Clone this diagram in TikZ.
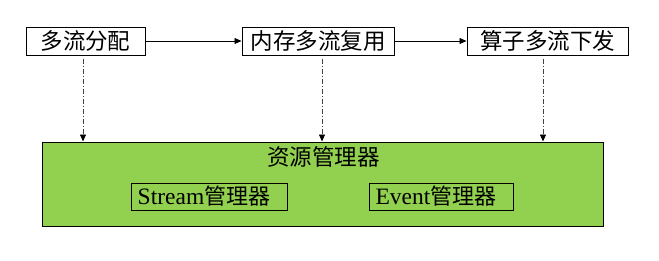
\documentclass[tikz,border=0pt]{standalone}
\usepackage{fontspec}
\setmainfont{Liberation Serif}
\newfontfamily\cjk{Noto Sans CJK SC}
\usetikzlibrary{arrows.meta}
\definecolor{mgreen}{RGB}{146,208,80}
\begin{document}
\begin{tikzpicture}[x=1pt,y=-1pt,
  topbox/.style={draw=black,line width=1pt,fill=white,inner sep=0pt,font=\cjk\fontsize{22.5}{22.5}\selectfont},
  innerbox/.style={draw=black,line width=0.8pt,inner sep=0pt,font=\fontsize{23.5}{23.5}\selectfont},
  solidarrow/.style={draw=black,line width=0.8pt,-{Triangle[length=7pt,width=6pt]}},
  dasharrow/.style={draw=black!75,line width=0.8pt,dash pattern=on 5pt off 2pt on 1pt off 2pt,-{Triangle[length=7pt,width=6pt,black]}}]
\useasboundingbox (0,0) rectangle (659,260);
% top boxes
\node[topbox,minimum width=119pt,minimum height=28pt] (b1) at (85.5,41) {多流分配};
\node[topbox,minimum width=152pt,minimum height=28pt] (b2) at (318,41) {内存多流复用};
\node[topbox,minimum width=161pt,minimum height=28pt] (b3) at (547.5,41) {算子多流下发};
% green box
\node[draw=black,line width=1pt,fill=mgreen,minimum width=561pt,minimum height=84pt,inner sep=0pt] (g) at (322.5,184) {};
\node[font=\cjk\fontsize{22.5}{22.5}\selectfont,inner sep=0pt] (gt) at (323.5,157) {资源管理器};
\node[innerbox,minimum width=156pt,minimum height=27pt] (s) at (209,196.5) {Stream{\cjk\fontsize{22}{22}\selectfont 管理器}\kern10pt};
\node[innerbox,minimum width=144pt,minimum height=27pt] (e) at (441,196.5) {Event{\cjk\fontsize{22}{22}\selectfont 管理器}\kern10pt};
% arrows
\draw[solidarrow] (b1.east) -- (b2.west);
\draw[solidarrow] (b2.east) -- (b3.west);
\draw[dasharrow] ([xshift=-2.5pt,yshift=-3pt]b1.south) -- ([xshift=-2.5pt]b1.south |- g.north);
\draw[dasharrow] ([xshift=4pt,yshift=-3pt]b2.south) -- ([xshift=4pt]b2.south |- g.north);
\draw[dasharrow] ([xshift=-4.5pt,yshift=-3pt]b3.south) -- ([xshift=-4.5pt]b3.south |- g.north);
\end{tikzpicture}
\end{document}
